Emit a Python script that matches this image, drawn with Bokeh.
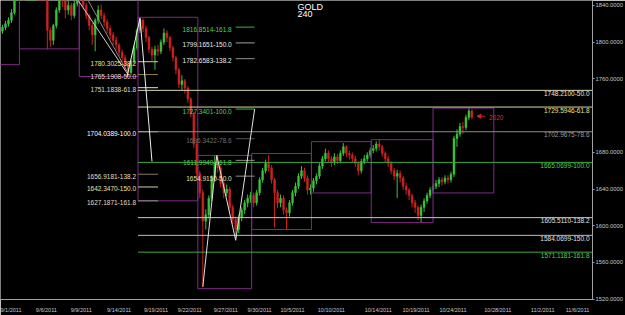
from bokeh.plotting import figure
from bokeh.models import (Range1d, FixedTicker, Label, Arrow, NormalHead, BoxAnnotation,
                          ColumnDataSource, PrintfTickFormatter)
from bokeh.embed import file_html
from bokeh.resources import INLINE
from bokeh.core.properties import value

FONT = "Liberation Sans"

# ---------------- data: 4h GOLD candles (bar index -> price) ----------------
first_open = 1812
closes = [1816, 1820, 1824, 1832, 1867, 1875, 1882, 1878, 1888, 1895, 1905, 1912, 1898, 1885, 1862,
          1813, 1802, 1818, 1835, 1851, 1845, 1835, 1840, 1829, 1842, 1856, 1851, 1840, 1829, 1818,
          1808, 1824, 1835, 1829, 1822, 1815, 1808, 1802, 1797, 1789, 1783, 1774, 1767, 1779, 1794,
          1813, 1824, 1815, 1805, 1792, 1786, 1792, 1790, 1800, 1810, 1805, 1794, 1783, 1770, 1754,
          1758, 1750, 1738, 1722, 1689, 1657, 1636, 1605, 1612, 1630, 1652, 1668, 1663, 1646, 1636,
          1640, 1620, 1607, 1596, 1609, 1617, 1625, 1630, 1633, 1625, 1636, 1650, 1660, 1668, 1663,
          1650, 1636, 1625, 1630, 1617, 1614, 1625, 1636, 1643, 1654, 1660, 1652, 1639, 1641, 1649,
          1654, 1665, 1673, 1679, 1673, 1670, 1675, 1671, 1679, 1686, 1679, 1677, 1673, 1668, 1660,
          1670, 1673, 1677, 1682, 1684, 1689, 1686, 1679, 1673, 1668, 1660, 1654, 1657, 1652, 1643,
          1639, 1633, 1625, 1620, 1611, 1620, 1627, 1633, 1639, 1643, 1646, 1650, 1648, 1652, 1650,
          1656, 1695, 1700, 1708, 1707, 1718, 1725, 1718.3]
highs = [1819, 1823, 1827, 1836, 1870, 1880, 1886, 1885, 1892, 1900, 1910, 1920, 1915, 1900, 1888,
         1865, 1816, 1820, 1838, 1856, 1857, 1848, 1845, 1843, 1846, 1860, 1862, 1854, 1843, 1831,
         1821, 1826, 1840, 1841, 1832, 1825, 1818, 1811, 1806, 1799, 1792, 1786, 1777, 1781, 1797,
         1815, 1827, 1826, 1818, 1807, 1795, 1796, 1797, 1803, 1815, 1813, 1807, 1796, 1785, 1772,
         1764, 1760, 1752, 1740, 1724, 1692, 1660, 1640, 1618, 1633, 1655, 1677, 1677, 1666, 1650,
         1645, 1642, 1623, 1610, 1612, 1620, 1628, 1634, 1637, 1636, 1639, 1653, 1663, 1672, 1677,
         1666, 1652, 1639, 1634, 1633, 1620, 1628, 1639, 1647, 1657, 1665, 1663, 1655, 1645, 1652,
         1657, 1668, 1676, 1684, 1682, 1676, 1679, 1678, 1682, 1690, 1688, 1682, 1680, 1676, 1670,
         1673, 1677, 1680, 1685, 1688, 1692, 1694, 1688, 1681, 1676, 1670, 1663, 1661, 1660, 1654,
         1647, 1641, 1635, 1628, 1622, 1623, 1630, 1636, 1642, 1646, 1650, 1653, 1653, 1655, 1655,
         1659, 1698, 1705, 1712, 1713, 1721, 1728, 1727]
lows = [1809, 1813, 1817, 1821, 1830, 1862, 1870, 1872, 1874, 1885, 1892, 1900, 1893, 1880, 1855,
        1792, 1795, 1797, 1815, 1832, 1838, 1826, 1830, 1824, 1826, 1839, 1847, 1836, 1825, 1813,
        1797, 1790, 1820, 1825, 1817, 1810, 1803, 1797, 1792, 1785, 1778, 1770, 1763, 1764, 1776,
        1791, 1810, 1811, 1800, 1788, 1780, 1770, 1785, 1787, 1797, 1800, 1790, 1779, 1765, 1750,
        1748, 1744, 1734, 1718, 1685, 1652, 1630, 1533, 1596, 1608, 1627, 1648, 1658, 1642, 1630,
        1632, 1616, 1602, 1586, 1592, 1605, 1613, 1620, 1625, 1620, 1622, 1633, 1647, 1657, 1659,
        1646, 1598, 1619, 1620, 1612, 1596, 1610, 1622, 1632, 1640, 1651, 1648, 1634, 1634, 1637,
        1645, 1651, 1662, 1670, 1669, 1664, 1666, 1667, 1668, 1676, 1675, 1672, 1669, 1664, 1655,
        1657, 1667, 1670, 1674, 1679, 1681, 1682, 1675, 1669, 1664, 1656, 1650, 1630, 1647, 1639,
        1634, 1628, 1620, 1614, 1606, 1604, 1615, 1624, 1630, 1635, 1640, 1642, 1644, 1645, 1646,
        1647, 1653, 1686, 1697, 1700, 1704, 1715, 1716]
opens = [first_open] + closes[:-1]
bars = list(range(len(closes)))

# x-axis date labels (bar index of each label)
date_ticks = [2.33, 14.67, 26.33, 39, 51.33, 62.67, 74.67, 86, 97, 110,
              125.67, 138.33, 150.67, 165.67, 180.67, 192.33]
date_labels = ["9/1/2011", "9/6/2011", "9/9/2011", "9/14/2011", "9/19/2011", "9/22/2011",
               "9/27/2011", "9/30/2011", "10/5/2011", "10/10/2011", "10/14/2011",
               "10/19/2011", "10/24/2011", "10/28/2011", "11/2/2011", "11/6/2011"]
price_ticks = [1520, 1560, 1600, 1640, 1680, 1760, 1800, 1840]
last_price = 1718.3001

# weekly range boxes
box_left = [-3, 5.67, 25.67, 45.33, 65.33, 83.33, 103.33, 123.33, 144]
box_right = [5.67, 25.67, 45.33, 65.33, 83.33, 103.33, 123.33, 144, 164.33]
box_top = [1925, 1925, 1925, 1827.1, 1676.6, 1678.7, 1691.6, 1693.8, 1728.2]
box_bottom = [1775.5, 1792.7, 1762.6, 1627.1, 1531.4, 1595.9, 1635.7, 1603.4, 1635.7]

# fibonacci levels: long set (right labels)
right_price = [1747.5, 1729.3, 1702.4, 1669.0, 1608.8, 1589.5, 1571.2]
right_text = ["1748.2100-50.0", "1729.5946-61.8", "1702.9675-78.6", "1665.0699-100.0",
              "1605.5110-138.2", "1584.0699-150.0", "1571.1181-161.8"]
right_x0, right_x1, right_lbl_x = 45.33, 198.0, 196.33
# short set (left labels)
left_price = [1778.7, 1764.7, 1750.4, 1702.4, 1656.1, 1642.2, 1627.1]
left_text = ["1780.3025-38.2", "1765.1908-50.0", "1751.1838-61.8", "1704.0389-100.0",
             "1656.9181-138.2", "1642.3470-150.0", "1627.1871-161.8"]
left_x0, left_x1, left_lbl_x = 45.33, 52.0, 44.67
# middle set
mid_price = [1816.4, 1799.2, 1782.0, 1727.1, 1694.8, 1671.2, 1654.0]
mid_text = ["1816.8514-161.8", "1799.1651-150.0", "1782.6583-138.2", "1727.3401-100.0",
            "1696.3422-78.6", "1611.9940-161.8", "1654.9150-50.0"]
mid_x0, mid_x1, mid_lbl_x = 78.0, 84.33, 76.67

# trend / swing lines
trend_x0 = [25.33, 28.67]
trend_p0 = [1845.4, 1845.4]
trend_x1 = [42.0, 41.67]
trend_p1 = [1764.7, 1768.0]
swing1_x = [41.67, 46.0, 50.0]
swing1_p = [1762.6, 1826.0, 1670.1]
swing2_x = [67.0, 71.67, 78.0, 84.33]
swing2_p = [1533.5, 1676.6, 1584.1, 1727.1]

# note
note_text = "2020"
note_x = 162.7
note_p = 1717.5
arrow_x = [161.5, 158.7]
arrow_p = [1719.3, 1719.3]

# ---------------- styles ----------------
BULL, BEAR = "#3cc23c", "#cc2222"
BOX = "#7e2a84"
right_line_col = ["#d8d8b8", "#d8d8a0", "#8c8c8c", "#3fa83f", "#c8c8c8", "#bcbcbc", "#3fa83f"]
right_lbl_col = ["#e8e8d0", "#e8e890", "#9c9c9c", "#55d055", "#e0e0e0", "#e0e0e0", "#55d055"]
left_line_col = ["#d8d0a0", "#8c7c50", "#e0e0e0", "#a0a0a0", "#8c7c50", "#d8d0a0", "#909090"]
left_lbl_col = ["#e8e0a0", "#e0dcc0", "#e0dcc0", "#ffffff", "#e0dcc0", "#e8e0a0", "#e0dcc0"]
mid_line_col = ["#40b040", "#a0a0a0", "#909090", "#40b040", "#505050", "#909080", "#909090"]
mid_lbl_col = ["#55d055", "#e8e8e8", "#e8e8e8", "#55d055", "#707070", "#55d055", "#e0e0b0"]

p = figure(width=625, height=315, output_backend="svg", toolbar_location=None,
           x_range=Range1d(-0.667, 197.333), y_range=Range1d(1519.6, 1845.4),
           y_axis_location="right",
           background_fill_color="black", border_fill_color="black",
           min_border_left=0, min_border_top=0, min_border_right=31, min_border_bottom=12)
p.outline_line_color = None
p.grid.visible = False

ya = p.yaxis[0]
ya.ticker = FixedTicker(ticks=price_ticks)
ya.formatter = PrintfTickFormatter(format="%.4f")
ya.axis_line_color = "#a0a0a0"
ya.major_tick_line_color = "#a0a0a0"
ya.major_tick_out = 2
ya.major_tick_in = 0
ya.minor_tick_line_color = None
ya.major_label_standoff = 1
ya.major_label_text_color = "#c8c8c8"
ya.major_label_text_font = FONT
ya.major_label_text_font_size = "5.8px"

xa = p.xaxis[0]
xa.ticker = FixedTicker(ticks=date_ticks)
xa.major_label_overrides = {t: l for t, l in zip(date_ticks, date_labels)}
xa.axis_line_color = "#a0a0a0"
xa.major_tick_line_color = None
xa.minor_tick_line_color = None
xa.major_label_standoff = 1
xa.major_label_text_color = "#c8c8c8"
xa.major_label_text_font = FONT
xa.major_label_text_font_size = "5.5px"

# candles
cols = [BULL if c >= o else BEAR for o, c in zip(opens, closes)]
src = ColumnDataSource(dict(x=bars, o=opens, c=closes, h=highs, l=lows, col=cols))
p.segment(x0="x", x1="x", y0="l", y1="h", line_color="col", line_width=1, source=src)
p.vbar(x="x", width=0.62, top="o", bottom="c", fill_color="col", line_color="col",
       line_width=0.5, source=src)

# weekly boxes
p.quad(left=box_left, right=box_right, top=box_top, bottom=box_bottom,
       fill_color=None, line_color=BOX, line_width=1)

# fib lines
n = len(right_price)
p.segment(x0=[right_x0] * n, x1=[right_x1] * n, y0=right_price, y1=right_price,
          line_color=right_line_col, line_width=1)
p.segment(x0=[left_x0] * n, x1=[left_x1] * n, y0=left_price, y1=left_price,
          line_color=left_line_col, line_width=1)
p.segment(x0=[mid_x0] * n, x1=[mid_x1] * n, y0=mid_price, y1=mid_price,
          line_color=mid_line_col, line_width=1)

# trend lines
p.segment(x0=trend_x0, y0=trend_p0, x1=trend_x1, y1=trend_p1,
          line_color=["#d0d0d0", "#8a8a8a"], line_width=1)
p.line(swing1_x, swing1_p, line_color="#f0f0f0", line_width=1)
p.line(swing2_x, swing2_p, line_color="#e0e0e0", line_width=1)

# fib labels
p.text(x=[right_lbl_x] * n, y=right_price, text=right_text, text_color=right_lbl_col,
       text_align="right", text_baseline="top", y_offset=0.5,
       text_font=value(FONT), text_font_size="6.5px")
p.text(x=[left_lbl_x] * n, y=left_price, text=left_text, text_color=left_lbl_col,
       text_align="right", text_baseline="middle", y_offset=2,
       text_font=value(FONT), text_font_size="6.5px")
p.text(x=[mid_lbl_x] * n, y=mid_price, text=mid_text, text_color=mid_lbl_col,
       text_align="right", text_baseline="middle", y_offset=2,
       text_font=value(FONT), text_font_size="6.5px")

# note with arrow
p.add_layout(Arrow(end=NormalHead(size=4, fill_color="#d02020", line_color="#d02020"),
                   x_start=arrow_x[0], y_start=arrow_p[0], x_end=arrow_x[1], y_end=arrow_p[1],
                   line_color="#d02020", line_width=1))
p.text(x=[note_x], y=[note_p], text=[note_text], text_color="#d83030",
       text_baseline="middle", text_font=value(FONT), text_font_size="6.5px")

# symbol title
p.add_layout(Label(x=297, y=298, x_units="screen", y_units="screen", text="GOLD",
                   text_color="white", text_font=FONT, text_font_size="9px",
                   text_baseline="top"))
p.add_layout(Label(x=297, y=289, x_units="screen", y_units="screen", text="240",
                   text_color="white", text_font=FONT, text_font_size="9px",
                   text_baseline="top"))

# last price tag on the axis
p.add_layout(Label(x=594, x_units="screen", y=last_price, text=f"{last_price:.4f}",
                   text_color="black", background_fill_color="white", text_font=FONT,
                   text_font_size="6px", text_baseline="middle", padding=1))

# horizontal scroll strip under the chart
p.add_layout(BoxAnnotation(left=73, right=640, top=-8, bottom=-13,
                           left_units="screen", right_units="screen",
                           top_units="screen", bottom_units="screen",
                           fill_color="#e4e4e4", fill_alpha=1, line_color=None))

open("out.html", "w").write(file_html(p, INLINE))
